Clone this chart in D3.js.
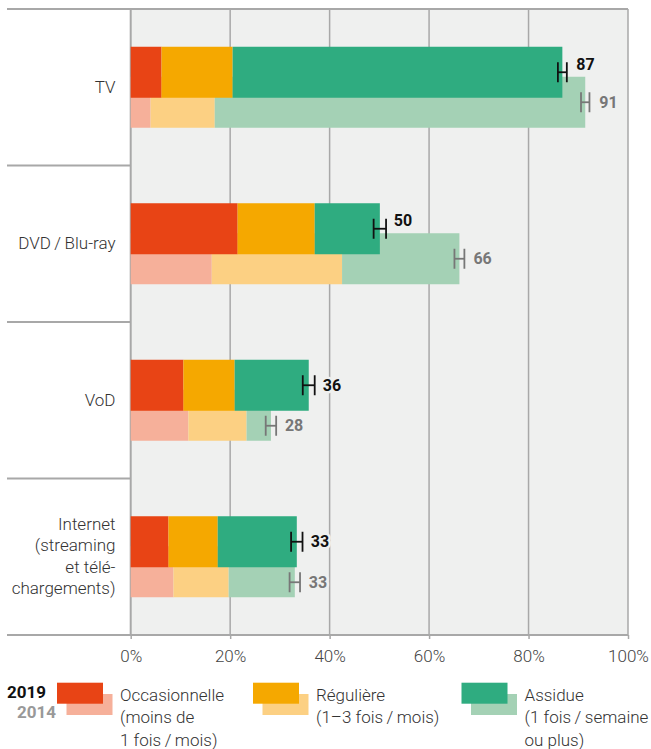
<!DOCTYPE html>
<html>
<head>
<meta charset="utf-8">
<script src="https://cdn.jsdelivr.net/npm/d3@7/dist/d3.min.js"></script>
<style>
  html, body { margin: 0; padding: 0; background: #fff; }
  svg { display: block; font-family: Roboto, "Noto Sans", sans-serif; }
</style>
</head>
<body>
<svg id="chart" width="651" height="749"></svg>
<script>
// ---- Data ----
const categories = ["TV", "DVD / Blu-ray", "VoD", "Internet"];
const categoryLines = [["TV"], ["DVD\u2009/\u2009Blu-ray"], ["VoD"], ["Internet", "(streaming", "et télé-", "chargements)"]];
const seriesKeys = ["occ", "reg", "ass"];

const occ2019 = [6.2, 21.5, 10.6, 7.6];
const reg2019 = [14.3, 15.5, 10.3, 9.9];
const ass2019 = [66.3, 13.1, 14.9, 15.9];

const occ2014 = [4.0, 16.3, 11.6, 8.6];
const reg2014 = [12.9, 26.2, 11.7, 11.1];
const ass2014 = [74.5, 23.6, 4.9, 13.3];

const err2019 = [0.9, 1.25, 1.2, 1.15];
const err2014 = [0.85, 1.0, 1.05, 1.05];

const labels2019 = ["87", "50", "36", "33"];
const labels2014 = ["91", "66", "28", "33"];

const tickValues = [0, 20, 40, 60, 80, 100];

const legendTitles = ["Occasionnelle", "Régulière", "Assidue"];
const legendSub = [["(moins de", "1 fois\u2009/\u2009mois)"], ["(1–3 fois\u2009/\u2009mois)"], ["(1 fois\u2009/\u2009semaine", "ou plus)"]];
const yearLabels = ["2019", "2014"];

// ---- Styles ----
const colors2019 = { occ: "#e84415", reg: "#f5a800", ass: "#2fac80" };
const colors2014 = { occ: "#f6b09a", reg: "#fcd083", ass: "#a4d1b5" };
const bg = "#eff0ef";
const lineCol = "#a8a8a8";

const svg = d3.select("#chart");

const x = d3.scaleLinear().domain([0, 100]).range([130.7, 628]);
const y = d3.scaleBand().domain(categories).range([9, 635]);

function buildRows(o, r, a) {
  return categories.map((c, i) => ({ cat: c, occ: o[i], reg: r[i], ass: a[i] }));
}
const rows2019 = buildRows(occ2019, reg2019, ass2019);
const rows2014 = buildRows(occ2014, reg2014, ass2014);
const stack = d3.stack().keys(seriesKeys);
const st2019 = stack(rows2019);
const st2014 = stack(rows2014);

// plot background
svg.append("rect")
  .attr("x", x(0)).attr("y", y.range()[0])
  .attr("width", x(100) - x(0)).attr("height", y.range()[1] - y.range()[0])
  .attr("fill", bg);

// gridlines
svg.append("g").selectAll("line")
  .data(tickValues.filter(d => d > 0))
  .join("line")
  .attr("x1", d => x(d)).attr("x2", d => x(d))
  .attr("y1", y.range()[0]).attr("y2", y.range()[1])
  .attr("stroke", lineCol).attr("stroke-width", 1.5);

// category separators (left side) and top/bottom lines
const bounds = categories.map(c => y(c)).concat([y.range()[1]]);
svg.append("g").selectAll("line")
  .data(bounds)
  .join("line")
  .attr("x1", 7)
  .attr("x2", (d, i) => (i === 0 || i === bounds.length - 1) ? x(100) : x(0))
  .attr("y1", d => d).attr("y2", d => d)
  .attr("stroke", lineCol).attr("stroke-width", 2);

// left axis line
svg.append("line")
  .attr("x1", x(0)).attr("x2", x(0))
  .attr("y1", y.range()[0]).attr("y2", y.range()[1])
  .attr("stroke", lineCol).attr("stroke-width", 2);

// bottom axis
const axis = svg.append("g")
  .attr("transform", `translate(0,${y.range()[1]})`)
  .call(d3.axisBottom(x).tickValues(tickValues).tickFormat(d => d + "%").tickSize(4).tickPadding(11));
axis.select(".domain").remove();
axis.selectAll(".tick line").attr("stroke", lineCol).attr("stroke-width", 1.5);
axis.selectAll(".tick text")
  .attr("fill", "#444").style("font-size", "17px").style("font-weight", 300)
  .style("font-family", "Roboto, sans-serif");

// bar geometry relative to band center
const barH = 51;
const center = c => y(c) + y.bandwidth() / 2;
const top2019 = c => center(c) - 40.5;
const top2014 = c => center(c) - 10.5;

// 2014 bars (behind)
svg.append("g").selectAll("g")
  .data(st2014)
  .join("g")
  .attr("fill", d => colors2014[d.key])
  .selectAll("rect")
  .data(d => d)
  .join("rect")
  .attr("x", d => x(d[0]))
  .attr("width", d => x(d[1]) - x(d[0]))
  .attr("y", d => top2014(d.data.cat))
  .attr("height", barH);

// 2019 bars (front)
svg.append("g").selectAll("g")
  .data(st2019)
  .join("g")
  .attr("fill", d => colors2019[d.key])
  .selectAll("rect")
  .data(d => d)
  .join("rect")
  .attr("x", d => x(d[0]))
  .attr("width", d => x(d[1]) - x(d[0]))
  .attr("y", d => top2019(d.data.cat))
  .attr("height", barH);

const total2019 = st2019[st2019.length - 1].map(d => d[1]);
const total2014 = st2014[st2014.length - 1].map(d => d[1]);

// vertical centre for each year's marker
const cy2019 = (c) => top2019(c) + barH / 2;
const cy2014 = (c, i) => {
  // if 2014 bar extends beyond 2019 bar: full-bar centre, else centre of visible lower part
  if (total2014[i] > total2019[i] + 2) return top2014(c) + barH / 2;
  return (top2019(c) + barH + top2014(c) + barH) / 2;
};

function drawErrors(totals, errs, cy, color) {
  const g = svg.append("g").attr("stroke", color).attr("stroke-width", 1.8).attr("fill", "none");
  categories.forEach((c, i) => {
    const e0 = x(totals[i] - errs[i]), e1 = x(totals[i] + errs[i]), yc = cy(c, i);
    g.append("line").attr("x1", e0).attr("x2", e1).attr("y1", yc).attr("y2", yc);
    g.append("line").attr("x1", e0).attr("x2", e0).attr("y1", yc - 10).attr("y2", yc + 10);
    g.append("line").attr("x1", e1).attr("x2", e1).attr("y1", yc - 10).attr("y2", yc + 10);
  });
}
drawErrors(total2014, err2014, cy2014, "#777");
drawErrors(total2019, err2019, cy2019, "#111");

function drawLabels(totals, labels, cy, color, avoid) {
  svg.append("g").selectAll("text")
    .data(categories)
    .join("text")
    .attr("x", (c, i) => x(totals[i]) + 14)
    .attr("y", (c, i) => {
      let yy = cy(c, i);
      if (avoid && x(avoid[i]) > x(totals[i]) + 14) yy -= 8;
      return yy;
    })
    .attr("dy", "0.35em")
    .attr("fill", color)
    .attr("stroke", bg).attr("stroke-width", 5).attr("stroke-linejoin", "round")
    .attr("paint-order", "stroke")
    .style("font-size", "16px").style("font-weight", 700)
    .text((c, i) => labels[i]);
}
drawLabels(total2014, labels2014, cy2014, "#777", null);
drawLabels(total2019, labels2019, cy2019, "#111", total2014);

// category labels
const catG = svg.append("g");
categories.forEach((c, i) => {
  const lines = categoryLines[i];
  const lh = 21.5;
  const start = center(c) - 0.5 - (lines.length - 1) * lh / 2;
  const t = catG.append("text")
    .attr("text-anchor", "end")
    .attr("fill", "#333")
    .style("font-size", "17px").style("font-weight", 300);
  lines.forEach((ln, j) => {
    t.append("tspan").attr("x", 115.5).attr("y", start + j * lh).attr("dy", "0.35em").text(ln);
  });
});

// legend
const leg = svg.append("g");
leg.append("text").attr("x", 7).attr("y", 691.7).attr("dy", "0.35em")
  .attr("fill", "#111").style("font-size", "17px").style("font-weight", 700).text(yearLabels[0]);
leg.append("text").attr("x", 17).attr("y", 711.7).attr("dy", "0.35em")
  .attr("fill", "#999").style("font-size", "17px").style("font-weight", 700).text(yearLabels[1]);

const legX = [57, 253, 461.5];
seriesKeys.forEach((k, i) => {
  const lx = legX[i];
  leg.append("rect").attr("x", lx + 9.5).attr("y", 694).attr("width", 46).attr("height", 21).attr("fill", colors2014[k]);
  leg.append("rect").attr("x", lx).attr("y", 682.7).attr("width", 46).attr("height", 21).attr("fill", colors2019[k]);
  const t = leg.append("text").attr("fill", "#333").style("font-size", "17px").style("font-weight", 300);
  [legendTitles[i]].concat(legendSub[i]).forEach((ln, j) => {
    t.append("tspan").attr("x", lx + 63).attr("y", 695 + j * 22.5).attr("dy", "0.35em").text(ln);
  });
});
</script>
</body>
</html>
